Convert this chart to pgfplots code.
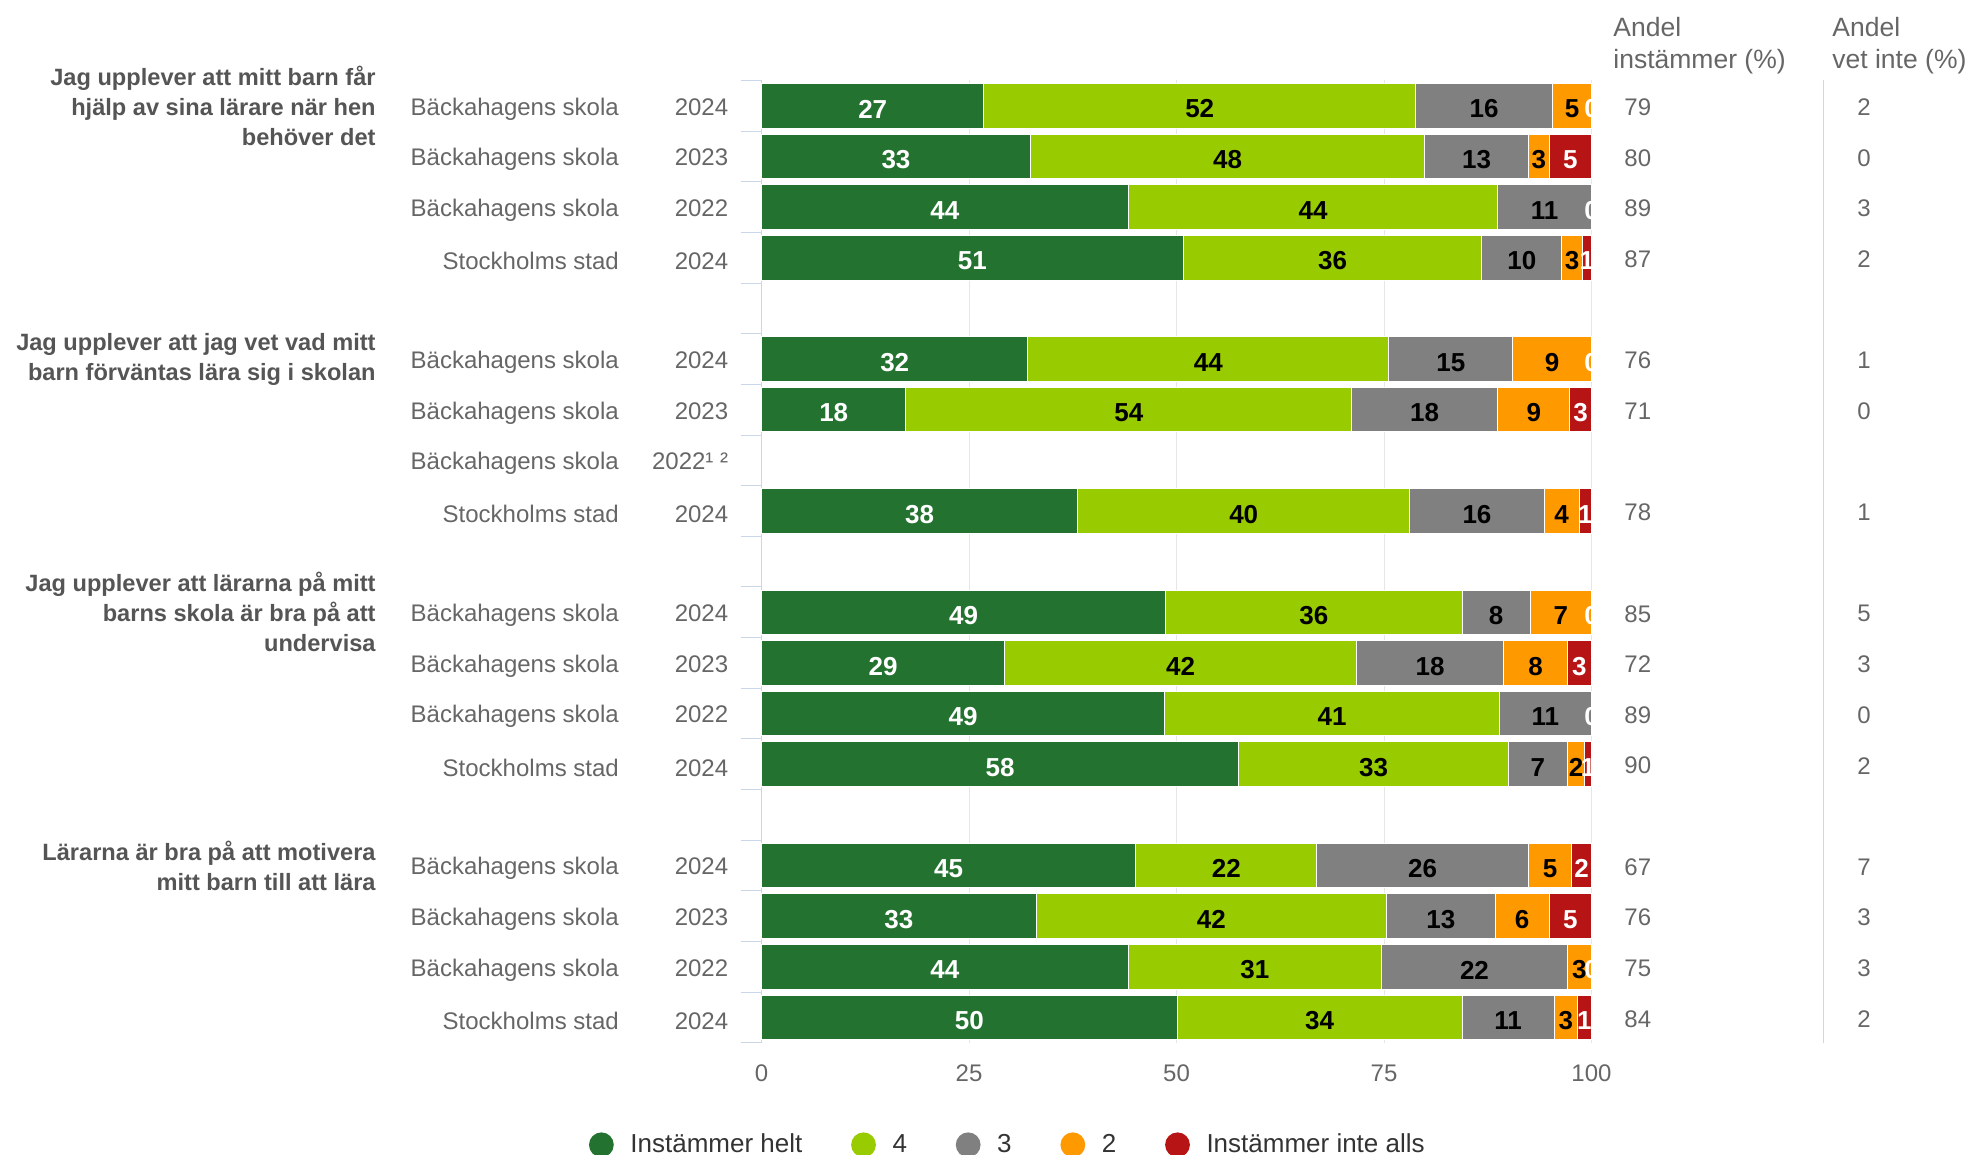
\documentclass[border=0pt]{standalone}
\usepackage{fontspec}
\setmainfont{Liberation Sans}
\usepackage{pgfplots}
\usepackage{pgfplotstable}
\pgfplotsset{compat=1.18}
\definecolor{cA}{HTML}{247230}
\definecolor{cB}{HTML}{99CC00}
\definecolor{cC}{HTML}{808080}
\definecolor{cD}{HTML}{FF9900}
\definecolor{cE}{HTML}{B71515}
\definecolor{axisblue}{HTML}{CCD6EB}
\definecolor{gridgray}{HTML}{E6E6E6}
\definecolor{txt}{HTML}{666666}
\definecolor{qtxt}{HTML}{555555}
\definecolor{legtxt}{HTML}{333333}
\newcommand\bh[1]{Bäckahagens skola\makebox[54.7pt][r]{#1}}
\newcommand\st[1]{Stockholms stad\makebox[54.7pt][r]{#1}}

\pgfplotstableread{
r a la b lb c lc d ld e le
1 26.8 27 52.0 52 16.5 16 4.7 5 0.01 0
2 32.4 33 47.5 48 12.5 13 2.5 3 5.1 5
3 44.2 44 44.5 44 11.3 11 0 {} 0.01 0
4 50.8 51 36.0 36 9.6 10 2.5 3 1.1 1
6 32.1 32 43.5 44 14.9 15 9.5 9 0.01 0
7 17.4 18 53.7 54 17.6 18 8.7 9 2.6 3
9 38.1 38 40.0 40 16.2 16 4.2 4 1.5 1
11 48.7 49 35.7 36 8.2 8 7.4 7 0.01 0
12 29.3 29 42.4 42 17.7 18 7.7 8 2.9 3
13 48.6 49 40.3 41 11.1 11 0 {} 0.01 0
14 57.5 58 32.5 33 7.1 7 2.1 2 0.8 1
16 45.1 45 21.8 22 25.5 26 5.2 5 2.4 2
17 33.1 33 42.2 42 13.1 13 6.5 6 5.1 5
18 44.2 44 30.5 31 22.4 22 2.9 3 0.01 0
19 50.1 50 34.3 34 11.1 11 2.8 3 1.7 1
}\data

\begin{document}
\begin{tikzpicture}
\useasboundingbox (0,0) rectangle (983.5pt,577.5pt);
\begin{axis}[
  at={(380.75pt,56.1pt)}, anchor=south west,
  scale only axis, width=415pt, height=481.15pt,
  xbar stacked, bar width=0.88,
  xmin=0, xmax=100, ymin=0.5, ymax=19.5,
  clip=false,
  axis lines*=left,
  x axis line style={draw=none},
  y axis line style={draw=axisblue, line width=0.5pt},
  xtick={0,25,50,75,100},
  xmajorgrids, major grid style={draw=gridgray, line width=0.5pt},
  ytick={1,2,3,4,6,7,8,9,11,12,13,14,16,17,18,19},
  yticklabels={\st{2024},\bh{2022},\bh{2023},\bh{2024},\st{2024},\bh{2022},\bh{2023},\bh{2024},\st{2024},\bh{2022¹ ²},\bh{2023},\bh{2024},\st{2024},\bh{2022},\bh{2023},\bh{2024}},
  minor ytick={0.5,1.5,...,19.5},
  major tick length=0pt, minor tick length=10.5pt, tick align=outside,
  minor tick style={draw=axisblue, line width=0.5pt},
  yticklabel style={anchor=east, inner sep=0pt, xshift=-16.45pt, yshift=-1.6pt, font=\fontsize{12}{14}\selectfont, text=txt},
  xticklabel style={anchor=center, inner sep=0pt, yshift=-15.35pt, font=\fontsize{12}{14}\selectfont, text=txt},
  /pgf/number format/assume math mode=true,
  point meta=explicit symbolic,
  nodes near coords={\pgfplotspointmeta},
  nodes near coords align={center},
  every node near coord/.append style={anchor=center, inner sep=0pt, yshift=-1.6pt, font=\bfseries\fontsize{13}{15}\selectfont},
  legend style={at={(0.298,-0.106)}, anchor=center, draw=none, fill=none, legend columns=5, font=\fontsize{13}{15}\selectfont, text=legtxt, /tikz/every odd column/.append style={column sep=6.3pt}, /tikz/every even column/.append style={column sep=22.4pt}},
  legend cell align=left,
  every axis plot post/.append style={legend image code/.code={\fill[##1,draw=none] (0pt,0pt) circle (6.2pt);}},
]
\addplot[fill=cA, draw=white, line width=0.5pt, every node near coord/.append style={text=white}] table[x=a, y expr=20-\thisrow{r}, meta=la] {\data};
\addlegendentry{Instämmer helt}
\addplot[fill=cB, draw=white, line width=0.5pt, every node near coord/.append style={text=black}] table[x=b, y expr=20-\thisrow{r}, meta=lb] {\data};
\addlegendentry{4}
\addplot[fill=cC, draw=white, line width=0.5pt, every node near coord/.append style={text=black}] table[x=c, y expr=20-\thisrow{r}, meta=lc] {\data};
\addlegendentry{3}
\addplot[fill=cD, draw=white, line width=0.5pt, every node near coord/.append style={text=black}] table[x=d, y expr=20-\thisrow{r}, meta=ld] {\data};
\addlegendentry{2}
\addplot[fill=cE, draw=white, line width=0.5pt, every node near coord/.append style={text=white}] table[x=e, y expr=20-\thisrow{r}, meta=le] {\data};
\addlegendentry{Instämmer inte alls}
\end{axis}
\begin{scope}[x=0.5pt,y=0.5pt]
\node[anchor=east, align=right, inner sep=0pt, font=\bfseries\fontsize{11.8}{15}\selectfont, text=qtxt] at (376,1049.2) {Jag upplever att mitt barn får\\hjälp av sina lärare när hen\\behöver det};
\node[anchor=east, align=right, inner sep=0pt, font=\bfseries\fontsize{11.8}{15}\selectfont, text=qtxt] at (376,795.9) {Jag upplever att jag vet vad mitt\\barn förväntas lära sig i skolan};
\node[anchor=east, align=right, inner sep=0pt, font=\bfseries\fontsize{11.8}{15}\selectfont, text=qtxt] at (376,542.7) {Jag upplever att lärarna på mitt\\barns skola är bra på att\\undervisa};
\node[anchor=east, align=right, inner sep=0pt, font=\bfseries\fontsize{11.8}{15}\selectfont, text=qtxt] at (376,289.5) {Lärarna är bra på att motivera\\mitt barn till att lära};
\foreach \s/\a/\b in {1/79/2,2/80/0,3/89/3,4/87/2,6/76/1,7/71/0,9/78/1,11/85/5,12/72/3,13/89/0,14/90/2,16/67/7,17/76/3,18/75/3,19/84/2}{
  \pgfmathsetmacro\yy{1155-(80.5+(\s-0.5)*50.647)-1.5}
  \node[anchor=west, inner sep=0pt, text=txt, font=\fontsize{12}{14}\selectfont] at (1624,\yy) {\a};
  \node[anchor=west, inner sep=0pt, text=txt, font=\fontsize{12}{14}\selectfont] at (1857,\yy) {\b};
}
\node[anchor=base west, inner sep=0pt, font=\fontsize{13.25}{16}\selectfont, text=txt] at (1613,1118.5) {Andel};
\node[anchor=base west, inner sep=0pt, font=\fontsize{13.25}{16}\selectfont, text=txt] at (1613,1086.8) {instämmer (\%)};
\node[anchor=base west, inner sep=0pt, font=\fontsize{13.25}{16}\selectfont, text=txt] at (1832,1118.5) {Andel};
\node[anchor=base west, inner sep=0pt, font=\fontsize{13.25}{16}\selectfont, text=txt] at (1832,1086.8) {vet inte (\%)};
\draw[axisblue, line width=0.5pt] (1823,1074.5) -- (1823,112.2);
\end{scope}
\end{tikzpicture}
\end{document}
